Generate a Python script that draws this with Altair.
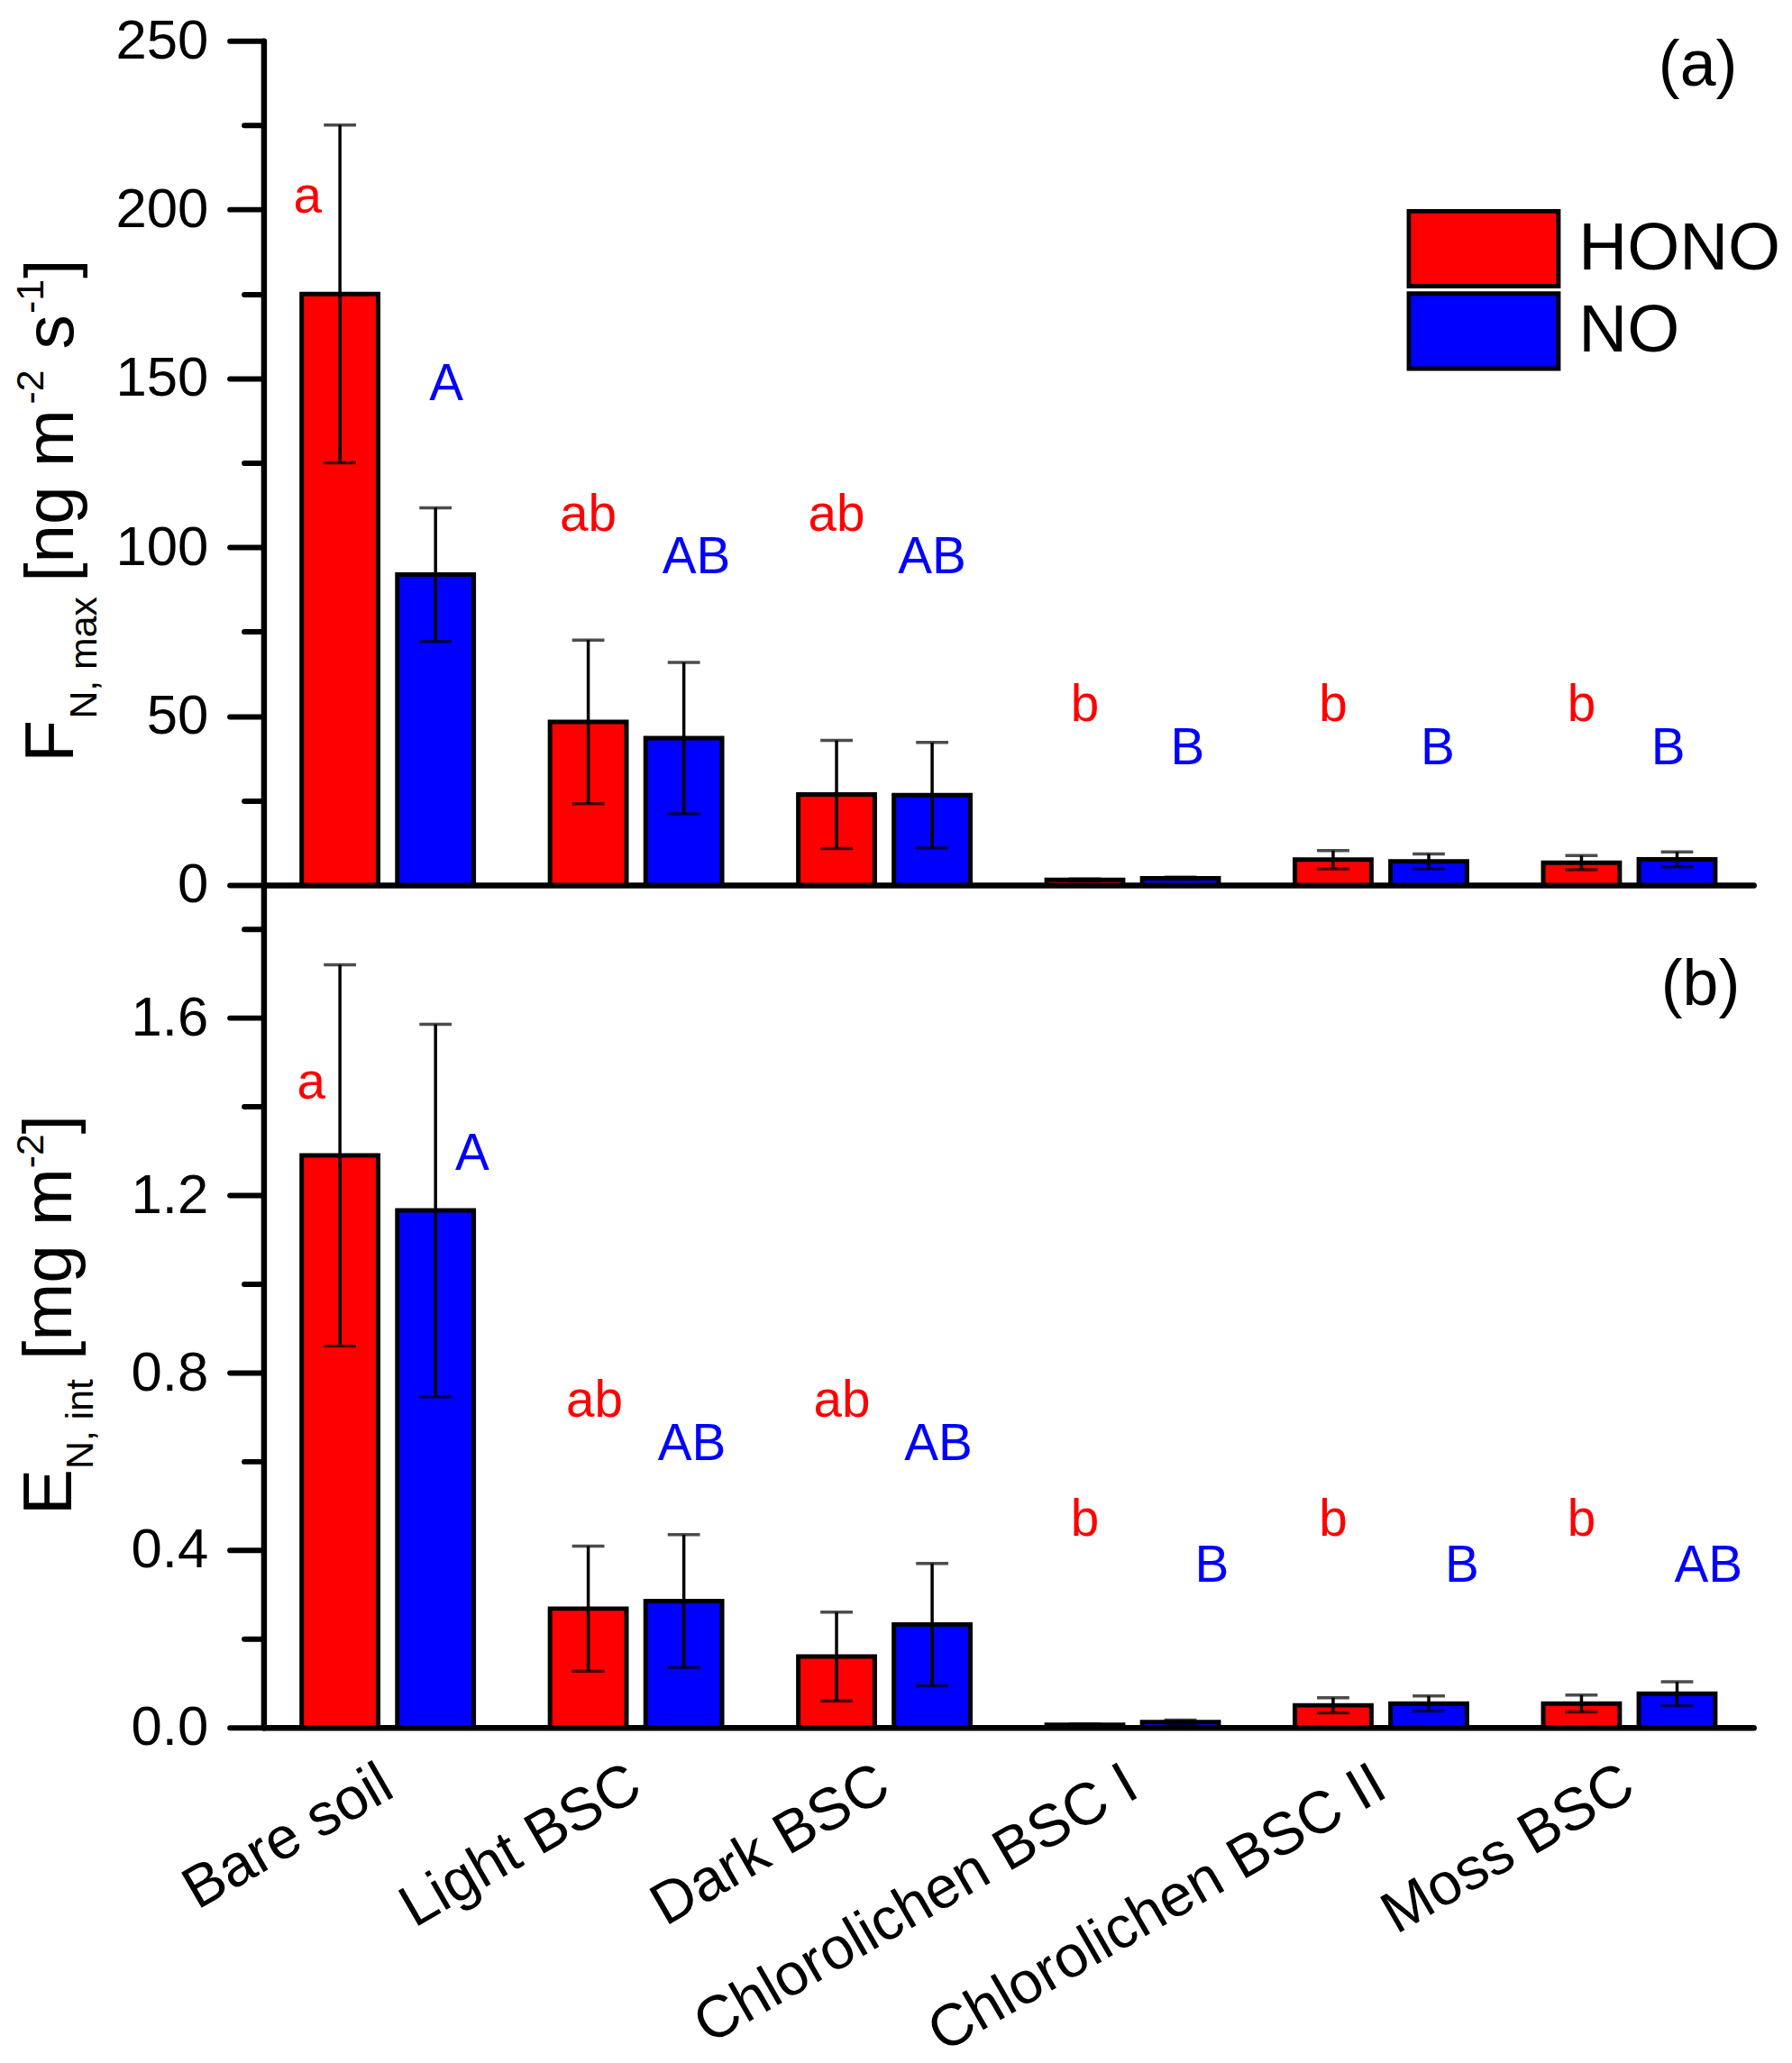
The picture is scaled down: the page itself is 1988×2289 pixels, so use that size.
import altair as alt
import pandas as pd

FONT = "Liberation Sans"

categories = ["Bare soil", "Light BSC", "Dark BSC", "Chlorolichen BSC I",
              "Chlorolichen BSC II", "Moss BSC"]
gases = ["HONO", "NO"]
colors = ["#ff0000", "#0000ff"]

# (a) F_N,max [ng m-2 s-1]
F_hono = [175.0, 48.3, 26.8, 1.5, 7.5, 6.6]
F_hono_err = [50.0, 24.2, 16.0, 0.3, 2.7, 2.1]
F_no = [91.9, 43.5, 26.6, 2.0, 7.0, 7.6]
F_no_err = [19.8, 22.4, 15.6, 0.3, 2.2, 2.2]
F_let_hono = ["a", "ab", "ab", "b", "b", "b"]
F_let_no = ["A", "AB", "AB", "B", "B", "B"]
F_let_hono_y = [199.0, 105.0, 105.0, 48.5, 48.5, 48.5]
F_let_no_y = [143.6, 92.2, 92.2, 35.7, 35.7, 35.7]

# (b) E_N,int [mg m-2]
E_hono = [1.290, 0.268, 0.160, 0.006, 0.050, 0.054]
E_hono_err = [0.430, 0.141, 0.100, 0.002, 0.017, 0.019]
E_no = [1.166, 0.285, 0.232, 0.012, 0.054, 0.076]
E_no_err = [0.420, 0.150, 0.138, 0.005, 0.017, 0.027]
E_let_hono = ["a", "ab", "ab", "b", "b", "b"]
E_let_no = ["A", "AB", "AB", "B", "B", "AB"]
E_let_hono_y = [1.419, 0.700, 0.700, 0.433, 0.433, 0.433]
E_let_no_y = [1.257, 0.604, 0.604, 0.328, 0.328, 0.328]

F_ticks = [0, 25, 50, 75, 100, 125, 150, 175, 200, 225, 250]
E_ticks = [0.0, 0.2, 0.4, 0.6, 0.8, 1.0, 1.2, 1.4, 1.6, 1.8]


def panel_df(h, he, n, ne, lh, ln, lyh, lyn):
    rows = []
    for i, c in enumerate(categories):
        rows.append(dict(cat=c, gas="HONO", value=h[i], lo=h[i] - he[i],
                         hi=h[i] + he[i], letter=lh[i], ly=lyh[i]))
        rows.append(dict(cat=c, gas="NO", value=n[i], lo=n[i] - ne[i],
                         hi=n[i] + ne[i], letter=ln[i], ly=lyn[i]))
    return pd.DataFrame(rows)


dfF = panel_df(F_hono, F_hono_err, F_no, F_no_err, F_let_hono, F_let_no,
               F_let_hono_y, F_let_no_y)
dfE = panel_df(E_hono, E_hono_err, E_no, E_no_err, E_let_hono, E_let_no,
               E_let_hono_y, E_let_no_y)

W = 1662
H_TOP = 942
H_BOT = 940

ARIAL_W = {' ': 278, ',': 278, '-': 333, '[': 278, ']': 278, '1': 556, '2': 556,
           'E': 667, 'F': 611, 'N': 722, 'a': 556, 'g': 556, 'i': 222, 'm': 833,
           'n': 556, 's': 500, 't': 278, 'x': 500}
MAIN = 77
SMALL = 43


def tw(s, size, k=1.0):
    return sum(ARIAL_W[ch] for ch in s) / 1000.0 * size * k


def one():
    return alt.InlineData(values=[{"k": 1}])


def title_layers(pieces, start_y, base_main, base_sub, base_sup, k):
    layers = []
    y = start_y
    for text, role in pieces:
        size = MAIN if role == "main" else SMALL
        xb = {"main": base_main, "sub": base_sub, "sup": base_sup}[role]
        stripped = text.lstrip(" ")
        lead = tw(text[: len(text) - len(stripped)], size, k)
        shown = stripped.rstrip(" ")
        layers.append(
            alt.Chart(one()).mark_text(angle=270, align="left", baseline="alphabetic",
                                      fontSize=size, font=FONT, color="black")
            .encode(x=alt.value(xb), y=alt.value(y - lead), text=alt.value(shown))
        )
        y -= tw(text, size, k)
    return layers


cscale = alt.Scale(domain=gases, range=colors)
xscale = alt.Scale(domain=categories, paddingInner=0.307, paddingOuter=0.1535)
xoff = alt.XOffset("gas:N", sort=gases, scale=alt.Scale(paddingInner=0.2, paddingOuter=0))


def build_panel(df, ymax, ticks, major_test, label_expr, x_axis, legend, nudges,
                height, title_pieces, tstart, tb, tk, panel_label, plx, ply):
    yscale = alt.Scale(domain=[0, ymax], nice=False, zero=True)
    yaxis = alt.Axis(values=ticks, labelExpr=label_expr, title=None,
                     tickSize={"condition": {"test": major_test, "value": 38}, "value": 22},
                     labelPadding=24)
    X = alt.X("cat:N", sort=categories, scale=xscale, axis=x_axis, title=None)

    bars = alt.Chart(df).mark_bar(stroke="black", strokeWidth=5).encode(
        x=X, xOffset=xoff,
        y=alt.Y("value:Q", scale=yscale, axis=yaxis, title=None),
        color=alt.Color("gas:N", scale=cscale, legend=legend),
    )
    rule = alt.Chart(df).mark_rule(color="black", strokeWidth=3.5).encode(
        x=X, xOffset=xoff,
        y=alt.Y("lo:Q", scale=yscale, axis=yaxis, title=None), y2="hi:Q",
    )
    cap_hi = alt.Chart(df).mark_tick(color="black", size=36, thickness=3.5).encode(
        x=X, xOffset=xoff, y=alt.Y("hi:Q", scale=yscale, axis=yaxis, title=None))
    cap_lo = alt.Chart(df).mark_tick(color="black", size=36, thickness=3.5).encode(
        x=X, xOffset=xoff, y=alt.Y("lo:Q", scale=yscale, axis=yaxis, title=None))

    layers = [bars, rule, cap_hi, cap_lo]

    groups = {}
    for c in categories:
        for g in gases:
            groups.setdefault(nudges.get((g, c), 0), []).append((g, c))
    for dx, members in groups.items():
        expr = " || ".join(f"(datum.gas === '{g}' && datum.cat === '{c}')" for g, c in members)
        layers.append(
            alt.Chart(df).transform_filter(expr)
            .mark_text(dx=dx, fontSize=57, font=FONT, baseline="alphabetic", align="center")
            .encode(x=X, xOffset=xoff,
                    y=alt.Y("ly:Q", scale=yscale, axis=yaxis, title=None),
                    text="letter:N",
                    color=alt.Color("gas:N", scale=cscale, legend=None))
        )

    layers += title_layers(title_pieces, tstart, *tb, tk)
    layers.append(
        alt.Chart(one()).mark_text(align="right", baseline="alphabetic", fontSize=72,
                                  font=FONT, color="black")
        .encode(x=alt.value(plx), y=alt.value(ply), text=alt.value(panel_label))
    )
    return alt.layer(*layers).properties(width=W, height=height)


top_x_axis = alt.Axis(labels=False, ticks=False, title=None, domain=True)
bot_x_axis = alt.Axis(labelAngle=-30, labelAlign="right", labelBaseline="top",
                      labelFontSize=66, labelFont=FONT, ticks=False, labelPadding=30,
                      labelOffset=-16, labelLimit=2000, labelOverlap=False, title=None)

legend = alt.Legend(orient="none", legendX=1275, legendY=186, title=None,
                    symbolType="M-1,-0.5H1V0.5H-1Z", symbolSize=27889,
                    symbolStrokeColor="black", symbolStrokeWidth=5, symbolOpacity=1,
                    labelFontSize=75, labelFont=FONT, labelColor="black",
                    labelLimit=1000, labelOffset=20, rowPadding=0, clipHeight=92,
                    padding=0)

nudges_top = {("HONO", "Bare soil"): -36, ("NO", "Bare soil"): 12, ("NO", "Light BSC"): 14,
              ("NO", "Chlorolichen BSC I"): 8, ("NO", "Chlorolichen BSC II"): 10,
              ("NO", "Moss BSC"): -10}
nudges_bot = {("HONO", "Bare soil"): -32, ("NO", "Bare soil"): 41, ("NO", "Light BSC"): 9,
              ("HONO", "Light BSC"): 7, ("HONO", "Dark BSC"): 6, ("NO", "Dark BSC"): 7,
              ("NO", "Chlorolichen BSC I"): 35, ("NO", "Chlorolichen BSC II"): 37,
              ("NO", "Moss BSC"): 35}

top_title = [("F", "main"), ("N, max ", "sub"), ("[ng m", "main"), ("-2", "sup"),
             (" s", "main"), ("-1", "sup"), ("]", "main")]
bot_title = [("E", "main"), ("N, int", "sub"), (" [mg m", "main"), ("-2", "sup"),
             ("]", "main")]

top = build_panel(dfF, 250, F_ticks, "datum.value % 50 === 0",
                  "datum.value % 50 === 0 ? datum.label : ''",
                  top_x_axis, legend, nudges_top, H_TOP,
                  top_title, 805, (-213, -186, -246), 1.03, "(a)", 1644, 50)
bottom = build_panel(dfE, 1.9, E_ticks, "round(datum.value * 10) % 4 === 0",
                     "round(datum.value * 10) % 4 === 0 ? format(datum.value, '.1f') : ''",
                     bot_x_axis, None, nudges_bot, H_BOT,
                     bot_title, 703, (-215, -190, -246), 1.0, "(b)", 1647, 134)

chart = (
    alt.vconcat(top, bottom, spacing=0, bounds="flush")
    .resolve_scale(y="independent")
    .resolve_legend(color="independent")
    .configure(font=FONT, padding={"left": 5, "top": 0, "right": 5, "bottom": 0})
    .configure_view(stroke=None)
    .configure_axis(grid=False, domainColor="black", domainWidth=6.5, domainCap="round",
                    tickColor="black", tickWidth=6, tickCap="round",
                    labelFont=FONT, labelFontSize=62, labelColor="black",
                    labelOverlap=False)
)

chart.save("out.html", embed_options={"renderer": "svg", "actions": False})
